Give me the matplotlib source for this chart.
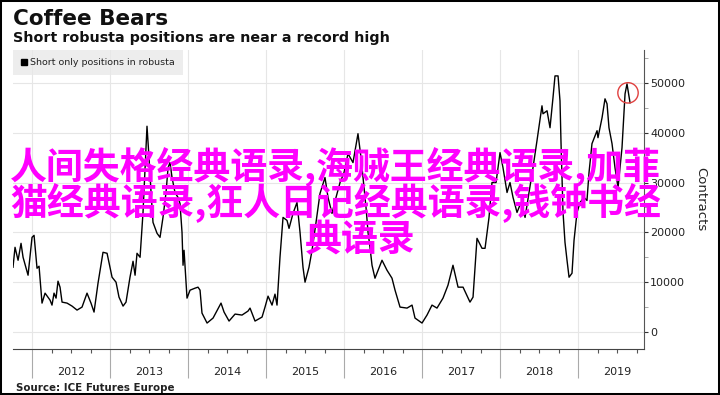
import matplotlib
matplotlib.use("Agg")
import matplotlib.pyplot as plt
from matplotlib.lines import Line2D
from matplotlib.patches import Rectangle
import numpy as np

# ---------------- data ----------------
dates = [2011.756, 2011.782, 2011.821, 2011.859, 2011.885, 2011.949, 2012.000, 2012.026,
         2012.064, 2012.090, 2012.128, 2012.167, 2012.231, 2012.256, 2012.282, 2012.308,
         2012.333, 2012.359, 2012.385, 2012.449, 2012.513, 2012.577, 2012.641, 2012.705,
         2012.756, 2012.795, 2012.846, 2012.910, 2012.962, 2013.026, 2013.077, 2013.115,
         2013.167, 2013.205, 2013.256, 2013.295, 2013.321, 2013.346, 2013.385, 2013.423,
         2013.449, 2013.474, 2013.500, 2013.526, 2013.551, 2013.603, 2013.641, 2013.679,
         2013.718, 2013.744, 2013.769, 2013.795, 2013.833, 2013.872, 2013.897, 2013.923,
         2013.936, 2013.949, 2013.987, 2014.026, 2014.090, 2014.128, 2014.154, 2014.179,
         2014.244, 2014.321, 2014.423, 2014.462, 2014.526, 2014.603, 2014.692, 2014.769,
         2014.795, 2014.859, 2014.949, 2014.987, 2015.026, 2015.077, 2015.115, 2015.141,
         2015.179, 2015.218, 2015.269, 2015.295, 2015.346, 2015.397, 2015.436, 2015.474,
         2015.500, 2015.551, 2015.590, 2015.641, 2015.692, 2015.756, 2015.795, 2015.846,
         2015.897, 2015.949, 2016.000, 2016.051, 2016.115, 2016.179, 2016.218, 2016.244,
         2016.282, 2016.308, 2016.333, 2016.359, 2016.397, 2016.487, 2016.551, 2016.615,
         2016.654, 2016.718, 2016.808, 2016.872, 2016.910, 2017.000, 2017.064, 2017.128,
         2017.192, 2017.269, 2017.333, 2017.397, 2017.462, 2017.526, 2017.615, 2017.654,
         2017.705, 2017.769, 2017.808, 2017.859, 2017.897, 2017.949, 2018.000, 2018.038,
         2018.090, 2018.128, 2018.167, 2018.218, 2018.269, 2018.321, 2018.372, 2018.423,
         2018.474, 2018.538, 2018.551, 2018.603, 2018.641, 2018.679, 2018.705, 2018.744,
         2018.769, 2018.782, 2018.808, 2018.833, 2018.859, 2018.885, 2018.923, 2018.949,
         2018.987, 2019.026, 2019.077, 2019.115, 2019.141, 2019.179, 2019.244, 2019.256,
         2019.308, 2019.346, 2019.372, 2019.397, 2019.436, 2019.474, 2019.513, 2019.538,
         2019.564, 2019.603, 2019.628, 2019.667]

contracts = [13000, 17000, 14400, 17800, 15000, 11400, 19000, 19400,
             12800, 13200, 5800, 7800, 6400, 5400, 7800, 6800,
             10200, 9000, 6000, 5800, 5200, 4400, 5000, 7800,
             5800, 4000, 9800, 16000, 15800, 11000, 10000, 7000,
             5200, 6000, 11000, 14200, 11400, 15800, 15000, 24000,
             33000, 41300, 35000, 28000, 22000, 19800, 19000, 23000,
             28000, 33000, 34000, 31000, 28000, 27000, 25800, 20000,
             13400, 16400, 6800, 8400, 8800, 9000, 8400, 3800,
             1800, 2800, 5800, 4000, 2200, 3600, 3400, 4200,
             4800, 2200, 3000, 5000, 7200, 5400, 7600, 5400,
             15000, 23000, 22400, 20800, 23800, 26000, 20000, 13000,
             10000, 13000, 16400, 22000, 27800, 31000, 27000, 23800,
             27000, 30000, 32000, 35800, 34000, 39800, 35000, 31000,
             25000, 20000, 17000, 13400, 10800, 14400, 12400, 10800,
             8400, 5000, 4800, 5400, 2800, 1800, 3400, 5400,
             4800, 6800, 9400, 13400, 9000, 9000, 6000, 7000,
             18800, 16800, 16800, 23000, 30000, 30000, 36000, 33000,
             28000, 30000, 27000, 24000, 26000, 23000, 28000, 33000,
             38400, 45400, 43800, 44400, 41000, 47000, 51400, 51400,
             46400, 38000, 24000, 18000, 14400, 11000, 11800, 18400,
             24000, 26000, 27000, 26400, 32000, 37800, 40400, 39000,
             43000, 46800, 45800, 41000, 37800, 33000, 29000, 33000,
             37000, 47800, 49800, 46000]

year_starts = [2012, 2013, 2014, 2015, 2016, 2017, 2018, 2019]
year_labels = ['2012', '2013', '2014', '2015', '2016', '2017', '2018', '2019']
y_ticks = [0, 10000, 20000, 30000, 40000, 50000]
y_tick_labels = ['0', '10000', '20000', '30000', '40000', '50000']

highlight_date = 2019.641
highlight_value = 48000

title = "Coffee Bears"
subtitle = "Short robusta positions are near a record high"
series_name = "Short only positions in robusta"
y_label = "Contracts"
source = "Source: ICE Futures Europe"
overlay_lines = ["人间失格经典语录,海贼王经典语录,加菲",
                 "猫经典语录,狂人日记经典语录,钱钟书经",
                 "典语录"]

# ---------------- figure ----------------
W, H = 720, 395
fig = plt.figure(figsize=(W / 100, H / 100), dpi=100)
fig.patch.set_facecolor('white')


def fx(px):
    return px / W


def fy(py):
    return 1 - py / H


ax = fig.add_axes([fx(13), fy(349), fx(644) - fx(13), fy(50) - fy(349)])
ax.set_facecolor('white')

ax.plot(dates, contracts, color='black', lw=1.0, zorder=3)
ax.scatter([highlight_date], [highlight_value], s=215, facecolors='none',
           edgecolors='#e0403f', linewidths=1.0, zorder=4)

ax.set_xlim(2011.756, 2019.846)
ax.set_ylim(-3410, 56600)

# x axis
ax.set_xticks(year_starts)
ax.set_xticklabels([''] * len(year_starts))
quarters = []
qlabels = []
for y, lab in zip(year_starts, year_labels):
    for q in (0.25, 0.5, 0.75):
        quarters.append(y + q)
        qlabels.append(lab if q == 0.5 else '')
ax.set_xticks(quarters, minor=True)
ax.set_xticklabels(qlabels, minor=True)
ax.tick_params(axis='x', which='major', length=21, width=0.8, color='#aaaaaa',
               direction='out')
ax.tick_params(axis='x', which='minor', length=3, width=0.8, color='#555555',
               direction='out', labelsize=8, labelcolor='#222222', pad=10)

# y axis
ax.yaxis.tick_right()
ax.yaxis.set_label_position('right')
ax.set_yticks(y_ticks)
ax.set_yticklabels(y_tick_labels)
ax.set_yticks(np.arange(5000, 56000, 10000), minor=True)
ax.tick_params(axis='y', which='major', length=3, width=0.8, color='#333333',
               labelsize=8, labelcolor='#222222', pad=1.5)
ax.tick_params(axis='y', which='minor', length=3, width=0.6, color='#999999')
ax.set_ylabel(y_label, rotation=270, fontsize=9.5, color='#222222', labelpad=16)

ax.grid(True, which='major', color='#e6e6e6', lw=0.8, zorder=0)
ax.set_axisbelow(True)

for s in ('left', 'top'):
    ax.spines[s].set_visible(False)
ax.spines['right'].set_color('#555555')
ax.spines['right'].set_linewidth(0.8)
ax.spines['bottom'].set_color('#444444')
ax.spines['bottom'].set_linewidth(0.8)

# legend
handle = Line2D([], [], marker='s', color='black', ls='none', markersize=5)
leg = ax.legend([handle], [series_name], loc='upper left', bbox_to_anchor=(0, 1),
                borderaxespad=0, frameon=True, fancybox=False, fontsize=6.8,
                handlelength=0.6, handletextpad=0.4, borderpad=0.85,
                facecolor='#e8e8e8', edgecolor='none', framealpha=0.75)
for t in leg.get_texts():
    t.set_color('#222222')

# titles
fig.text(fx(13), fy(25), title, fontsize=15.5, fontweight='bold',
         va='baseline', ha='left', color='#111111')
fig.text(fx(13), fy(42), subtitle, fontsize=10.3, fontweight='bold', va='baseline',
         ha='left', color='#111111')
fig.text(fx(16), fy(391), source, fontsize=7.4, fontweight='bold', va='baseline',
         ha='left', color='#222222')

# overlay magenta text
cjk = ['Noto Sans CJK SC', 'DejaVu Sans']
fig.text(fx(10), fy(179.5), overlay_lines[0], fontsize=26.6, fontweight='bold',
         color='#ff00ff', family=cjk, ha='left', va='baseline', zorder=10)
fig.text(fx(10), fy(215.5), overlay_lines[1], fontsize=26.6, fontweight='bold',
         color='#ff00ff', family=cjk, ha='left', va='baseline', zorder=10)
fig.text(fx(360), fy(250.5), overlay_lines[2], fontsize=26.6, fontweight='bold',
         color='#ff00ff', family=cjk, ha='center', va='baseline', zorder=10)

# outer black frame
fig.patches.append(Rectangle((0, 0), 1, 1, transform=fig.transFigure, fill=False,
                             edgecolor='black', lw=2.9, zorder=20))

fig.savefig('out.png', dpi=100, facecolor='white')
